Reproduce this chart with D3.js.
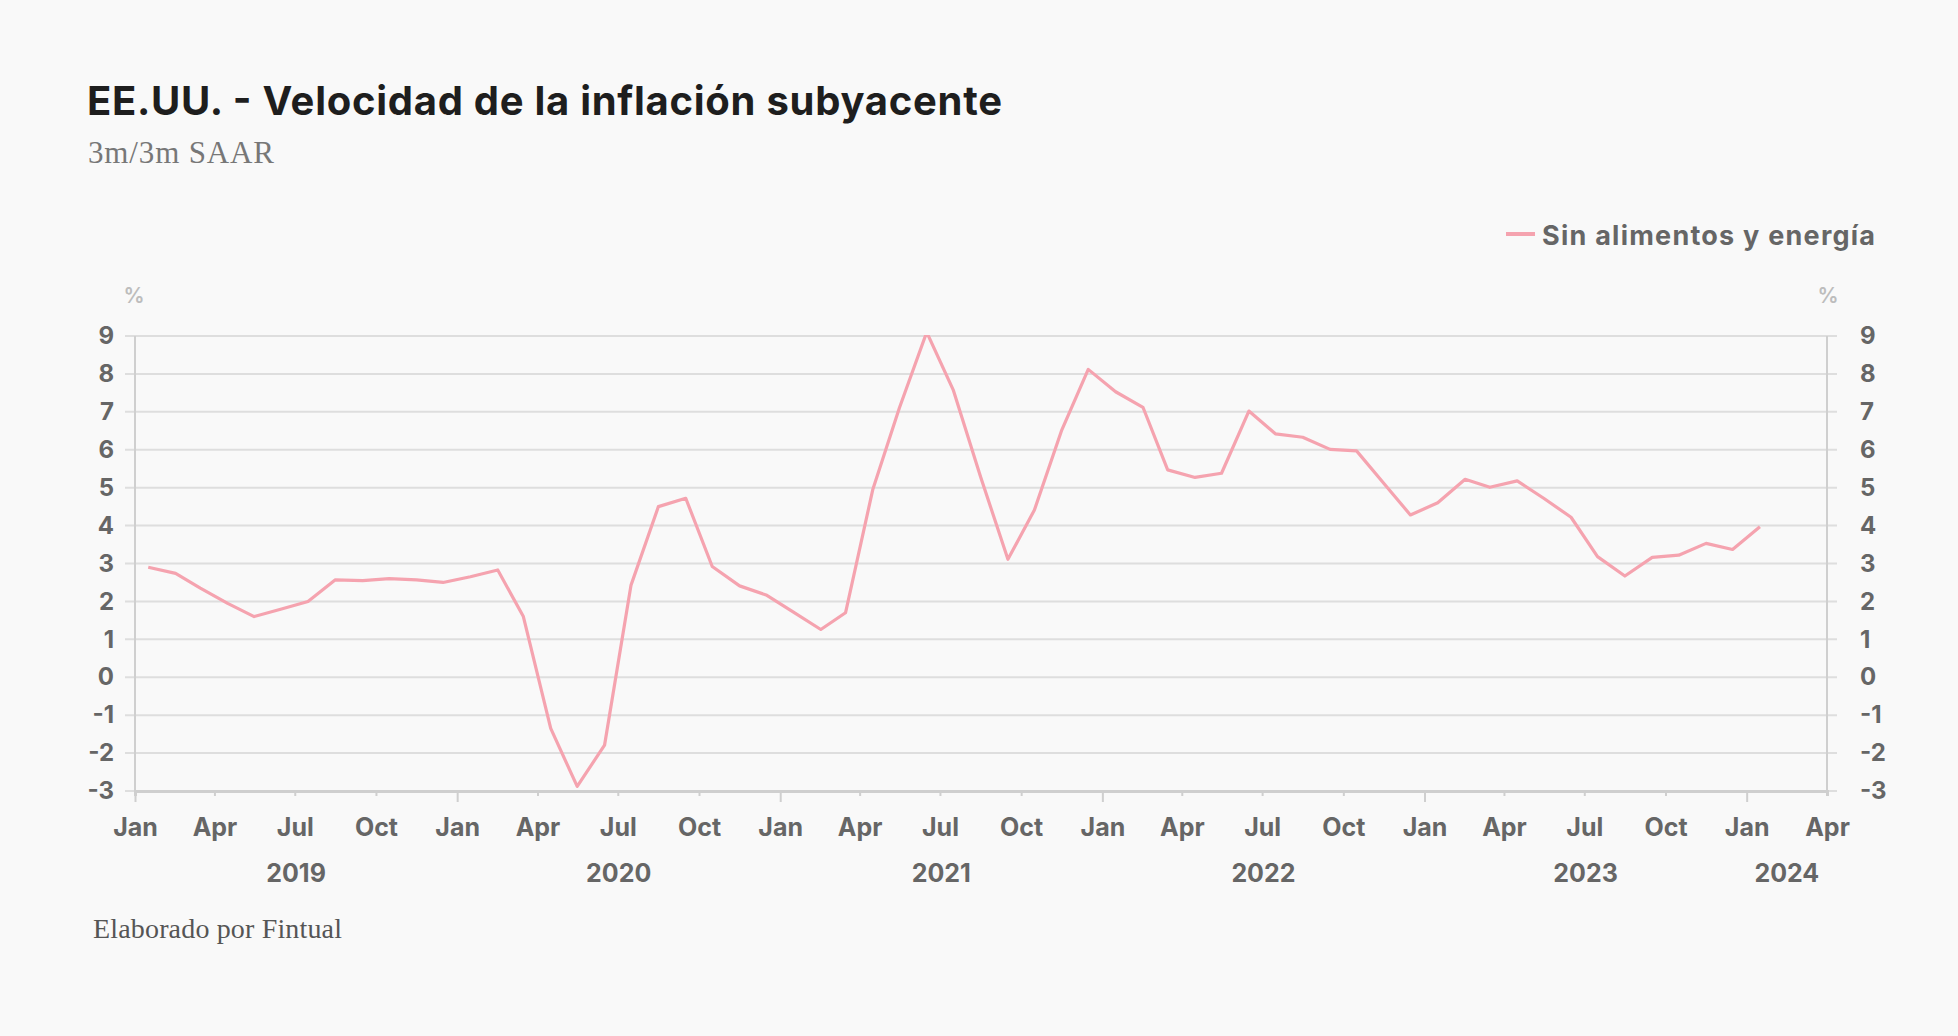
<!DOCTYPE html>
<html>
<head>
<meta charset="utf-8">
<script src="https://cdn.jsdelivr.net/npm/d3@7"></script>
<style>
	html, body { margin: 0; padding: 0; background: #f9f9f9; }
	svg { display: block; }
</style>
</head>
<body>
<svg id="chart" width="1958" height="1036"></svg>
<script>
// data, 3m/3m SAAR, monthly from Jan 2019
const startMonth = "2019-01";
const values = [
	2.9, 2.74, 2.35, 1.95, 1.6, 1.8, 2.0, 2.57, 2.55, 2.6, 2.57, 2.5,
	2.65, 2.83, 1.6, -1.35, -2.88, -1.79, 2.43, 4.5, 4.72, 2.92, 2.41, 2.17,
	1.72, 1.26, 1.7, 4.96, 7.1, 9.1, 7.58, 5.29, 3.11, 4.41, 6.52, 8.12,
	7.53, 7.12, 5.47, 5.27, 5.38, 7.02, 6.42, 6.33, 6.01, 5.97, 5.11, 4.28,
	4.6, 5.22, 5.01, 5.18, 4.72, 4.22, 3.18, 2.67, 3.16, 3.22, 3.53, 3.37,
	3.97
];
const seriesName = "Sin alimentos y energía";
const yTicks = [-3, -2, -1, 0, 1, 2, 3, 4, 5, 6, 7, 8, 9];
const xStart = "2019-01-01";
const xEnd = "2024-04-01";
const years = [2019, 2020, 2021, 2022, 2023, 2024];

const title = "EE.UU. - Velocidad de la inflación subyacente";
const subtitle = "3m/3m SAAR";
const footer = "Elaborado por Fintual";

const colors = {
	line: "#f5a3af",
	grid: "#dedede",
	axis: "#cfcfcf",
	label: "#666666",
	unit: "#bdbdbd"
};
const sans = "Inter, 'Noto Sans', sans-serif";
const serif = "'Liberation Serif', 'DejaVu Serif', serif";

const margin = { left: 135, right: 1827, top: 336, bottom: 791 };

const svg = d3.select("#chart");
const parseMonth = d3.timeParse("%Y-%m");
const parseDay = d3.timeParse("%Y-%m-%d");

const first = parseMonth(startMonth);
const data = values.map((v, i) => {
	const m = d3.timeMonth.offset(first, i);
	return { date: d3.timeDay.offset(m, 15), value: v };
});

const x = d3.scaleTime()
	.domain([parseDay(xStart), parseDay(xEnd)])
	.range([margin.left, margin.right]);

const y = d3.scaleLinear()
	.domain([-3, 9])
	.range([margin.bottom, margin.top]);

svg.append("rect")
	.attr("width", 1958).attr("height", 1036)
	.attr("fill", "#f9f9f9");

// titles
svg.append("text")
	.attr("x", 87).attr("y", 115)
	.attr("font-family", sans).attr("font-weight", 700)
	.attr("font-size", 40).attr("fill", "#1e1e1e")
	.attr("textLength", 915).attr("lengthAdjust", "spacing")
	.text(title);

svg.append("text")
	.attr("x", 88).attr("y", 163)
	.attr("font-family", serif)
	.attr("font-size", 31).attr("fill", "#777")
	.attr("textLength", 186).attr("lengthAdjust", "spacing")
	.text(subtitle);

// gridlines
svg.append("g")
	.selectAll("line")
	.data(yTicks)
	.join("line")
	.attr("x1", margin.left - 10)
	.attr("x2", margin.right + 10)
	.attr("y1", d => y(d))
	.attr("y2", d => y(d))
	.attr("stroke", colors.grid)
	.attr("stroke-width", 2);

// vertical axis lines
[margin.left, margin.right].forEach(px => {
	svg.append("line")
		.attr("x1", px).attr("x2", px)
		.attr("y1", margin.top).attr("y2", margin.bottom)
		.attr("stroke", colors.axis)
		.attr("stroke-width", 2);
});

// y labels both sides
const yLeft = svg.append("g")
	.attr("transform", `translate(${margin.left},0)`)
	.call(d3.axisLeft(y).tickValues(yTicks).tickSize(0).tickPadding(21).tickFormat(d3.format("d")));
const yRight = svg.append("g")
	.attr("transform", `translate(${margin.right},0)`)
	.call(d3.axisRight(y).tickValues(yTicks).tickSize(0).tickPadding(33).tickFormat(d3.format("d")));

[yLeft, yRight].forEach(g => {
	g.select(".domain").remove();
	g.selectAll("text")
		.attr("font-family", sans).attr("font-weight", 700)
		.attr("font-size", 24).attr("fill", colors.label)
		.text(d => d < 0 ? "-" + Math.abs(d) : d);
});

[margin.left - 1, margin.right + 1].forEach(px => {
	svg.append("text")
		.attr("x", px).attr("y", 295)
		.attr("text-anchor", "middle").attr("dominant-baseline", "central")
		.attr("font-family", sans).attr("font-weight", 600)
		.attr("font-size", 21).attr("fill", colors.unit)
		.text("%");
});

// x axis
const quarterTicks = d3.timeMonth.every(3).range(x.domain()[0], d3.timeDay.offset(x.domain()[1], 1));

const xAxis = svg.append("g")
	.attr("transform", `translate(0,${margin.bottom})`)
	.call(d3.axisBottom(x).tickValues(quarterTicks).tickSize(5).tickPadding(22).tickFormat(d3.timeFormat("%b")));

xAxis.select(".domain")
	.attr("stroke", colors.axis).attr("stroke-width", 3);
xAxis.selectAll(".tick line")
	.attr("stroke", colors.axis).attr("stroke-width", 2)
	.attr("y2", d => d.getMonth() === 0 ? 11 : 5);
xAxis.selectAll(".tick text")
	.attr("font-family", sans).attr("font-weight", 700)
	.attr("font-size", 25).attr("fill", colors.label);

// year labels, centered on the visible span of each year
svg.append("g")
	.selectAll("text")
	.data(years)
	.join("text")
	.attr("x", d => {
		const a = d3.max([new Date(d, 0, 1), x.domain()[0]]);
		const b = d3.min([new Date(d + 1, 0, 1), x.domain()[1]]);
		return (x(a) + x(b)) / 2;
	})
	.attr("y", 873)
	.attr("text-anchor", "middle").attr("dominant-baseline", "central")
	.attr("font-family", sans).attr("font-weight", 700)
	.attr("font-size", 25).attr("fill", colors.label)
	.text(d => d);

// series
svg.append("clipPath").attr("id", "plotClip")
	.append("rect")
	.attr("x", margin.left).attr("y", margin.top - 1)
	.attr("width", margin.right - margin.left)
	.attr("height", margin.bottom - margin.top + 2);

const line = d3.line()
	.x(d => x(d.date))
	.y(d => y(d.value));

svg.append("path")
	.datum(data)
	.attr("clip-path", "url(#plotClip)")
	.attr("d", line)
	.attr("fill", "none")
	.attr("stroke", colors.line)
	.attr("stroke-width", 3.2)
	.attr("stroke-linejoin", "round");

// legend
const legend = svg.append("g").attr("transform", "translate(1506,234)");
legend.append("line")
	.attr("x1", 0).attr("x2", 29)
	.attr("stroke", colors.line).attr("stroke-width", 4);
legend.append("text")
	.attr("x", 36).attr("y", 1)
	.attr("dominant-baseline", "central")
	.attr("font-family", sans).attr("font-weight", 700)
	.attr("font-size", 27).attr("fill", colors.label)
	.attr("textLength", 333).attr("lengthAdjust", "spacing")
	.text(seriesName);

// footer
svg.append("text")
	.attr("x", 93).attr("y", 938)
	.attr("font-family", serif)
	.attr("font-size", 28).attr("fill", "#555")
	.attr("textLength", 249).attr("lengthAdjust", "spacing")
	.text(footer);
</script>
</body>
</html>
